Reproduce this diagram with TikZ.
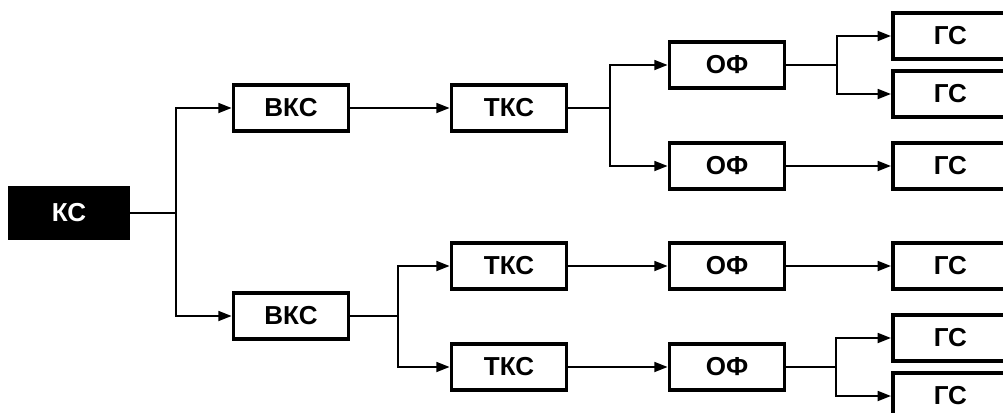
\documentclass[tikz,border=0pt]{standalone}
\usepackage{fontspec}
\setmainfont{Liberation Sans}
\usetikzlibrary{arrows.meta}

\begin{document}
\begin{tikzpicture}[
    blk/.style={draw, line width=2.3pt, minimum width=2.875cm, minimum height=1.15cm,
        inner sep=0pt, font=\bfseries\fontsize{18.5}{18.5}\selectfont},
    dark/.style={blk, fill=black, text=white},
    ln/.style={line width=2pt},
    arr/.style={ln, -{Triangle[length=0.34cm, width=0.24cm]}}]
\clip (0,0) rectangle (25.075,-10.3);
% Source
\node[dark, minimum width=2.95cm, minimum height=1.25cm] (kc) at (1.725,-5.325) {КС};
\coordinate (b1) at (4.4,-5.325);
\draw[ln] (kc) -- (b1);
% Upper branch
\node[blk] (vks1) at (7.275,-2.7) {ВКС};
\node[blk] (tks1) at (12.725,-2.7) {ТКС};
\node[blk] (of1) at (18.175,-1.625) {ОФ};
\node[blk] (of2) at (18.175,-4.15) {ОФ};
\node[blk] (gs1) at (23.76,-0.9) {ГС};
\node[blk] (gs2) at (23.76,-2.35) {ГС};
\node[blk] (gs3) at (23.76,-4.15) {ГС};
\coordinate (b2) at (15.25,-2.7);
\coordinate (b3) at (20.925,-1.625);
\draw[arr] (b1) |- (vks1);
\draw[arr] (vks1) -- (tks1);
\draw[ln] (tks1) -- (b2);
\draw[arr] (b2) |- (of1);
\draw[arr] (b2) |- (of2);
\draw[ln] (of1) -- (b3);
\draw[arr] (b3) |- (gs1);
\draw[arr] (b3) |- (gs2);
\draw[arr] (of2) -- (gs3);
% Lower branch
\node[blk] (vks2) at (7.275,-7.9) {ВКС};
\node[blk] (tks2) at (12.725,-6.65) {ТКС};
\node[blk] (tks3) at (12.725,-9.175) {ТКС};
\node[blk] (of3) at (18.175,-6.65) {ОФ};
\node[blk] (of4) at (18.175,-9.175) {ОФ};
\node[blk] (gs4) at (23.76,-6.65) {ГС};
\node[blk] (gs5) at (23.76,-8.45) {ГС};
\node[blk] (gs6) at (23.76,-9.9) {ГС};
\coordinate (b4) at (9.95,-7.9);
\coordinate (b5) at (20.9,-9.175);
\draw[arr] (b1) |- (vks2);
\draw[ln] (vks2) -- (b4);
\draw[arr] (b4) |- (tks2);
\draw[arr] (b4) |- (tks3);
\draw[arr] (tks2) -- (of3);
\draw[arr] (tks3) -- (of4);
\draw[arr] (of3) -- (gs4);
\draw[ln] (of4) -- (b5);
\draw[arr] (b5) |- (gs5);
\draw[arr] (b5) |- (gs6);
\end{tikzpicture}
\end{document}
